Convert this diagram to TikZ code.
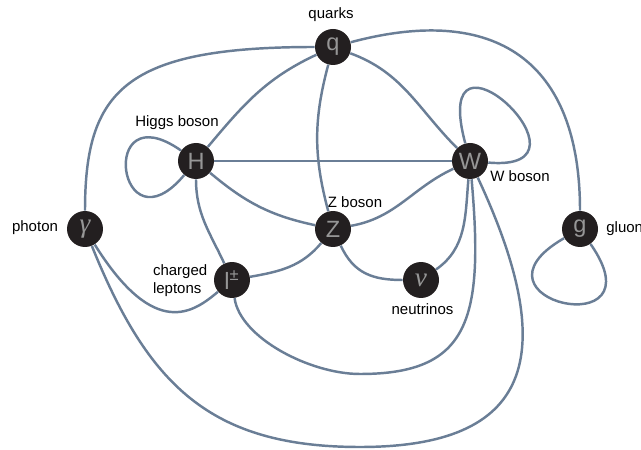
\documentclass[tikz,border=0pt]{standalone}
\usepackage{fontspec}
\setmainfont{Liberation Sans}
\newfontfamily\greekfont{Liberation Serif}
\definecolor{edgeblue}{RGB}{106,126,150}
\definecolor{nodeblack}{RGB}{35,31,32}
\definecolor{lettergrey}{RGB}{150,150,150}

\begin{document}
\begin{tikzpicture}[x=0.02cm, y=0.02cm,
    particle/.style={circle, fill=nodeblack, minimum size=0.72cm, inner sep=0pt, text=lettergrey, font=\fontsize{13.4}{14}\selectfont},
    greek/.style={particle, font=\greekfont\itshape\fontsize{15.5}{16}\selectfont},
    tag/.style={inner sep=0pt, align=left, font=\fontsize{8.54}{10.25}\selectfont},
    link/.style={draw=edgeblue, line width=1.4pt}]
    \useasboundingbox (0,0) rectangle (641,449);

    \node [particle] (q) at (333,402) {q};
    \node [particle] (H) at (196,288) {H};
    \node [particle] (W) at (470,288) {W};
    \node [greek] (ga) at (85,220) {γ};
    \node [particle] (Z) at (333,220) {Z};
    \node [particle] (g) at (580,220) {g};
    \node [particle] (lep) at (232,169) {l\textsuperscript{±}};
    \node [greek] (nu) at (421,169) {ν};

    \node [tag] (quarksTag) at (331,434) {quarks};
    \node [tag] (higgsTag) at (177,326) {Higgs boson};
    \node [tag] (wTag) at (520,273) {W boson};
    \node [tag] (zTag) at (355,247) {Z boson};
    \node [tag] (photonTag) at (35,221) {photon};
    \node [tag, anchor=west] (gluonTag) at (606,220) {gluon};
    \node [tag, anchor=west] (leptonTag) at (152.7,168) {charged\\leptons};
    \node [tag] (nuTag) at (422.5,140) {neutrinos};

    \coordinate (wlLow) at (360,75);
    \coordinate (wgLow) at (360,2);

    \draw [link] (q) to[out=180, in=90, out distance=3.8cm, in distance=2.4cm] (ga);
    \draw [link] (q) to[out=205, in=50] (H);
    \draw [link] (q) to[out=-105, in=105] (Z);
    \draw [link] (q) to[out=-20, in=135] (W);
    \draw [link] (q) to[out=15, in=90, distance=3cm] (g);
    \draw [link] (H) to[out=145, in=230, distance=2.06cm] (H);
    \draw [link] (H) -- (W);
    \draw [link] (H) to[out=-40, in=168] (Z);
    \draw [link] (H) to[out=-90, in=115] (lep);
    \draw [link] (W) to[out=105, in=-5, out distance=2.9cm, in distance=2.4cm] (W);
    \draw [link] (W) to[out=205, in=10] (Z);
    \draw [link] (W) to[out=-95, in=35] (nu);
    \draw [link] (W) to[out=-85, in=0, out distance=2.8cm, in distance=2.2cm] (wlLow)
        to[out=180, in=-82, out distance=1cm, in distance=0.8cm] (lep);
    \draw [link] (W) to[out=-65, in=0, out distance=4cm, in distance=3.4cm] (wgLow)
        to[out=180, in=-68, distance=3cm] (ga);
    \draw [link] (Z) to[out=-130, in=10] (lep);
    \draw [link] (Z) to[out=-65, in=180, looseness=1.1] (nu);
    \draw [link] (ga) to[out=-58, in=-140, out distance=2.28cm, in distance=0.62cm] (lep);
    \draw [link] (g) to[out=210, in=-55, distance=2.5cm] (g);
\end{tikzpicture}
\end{document}
